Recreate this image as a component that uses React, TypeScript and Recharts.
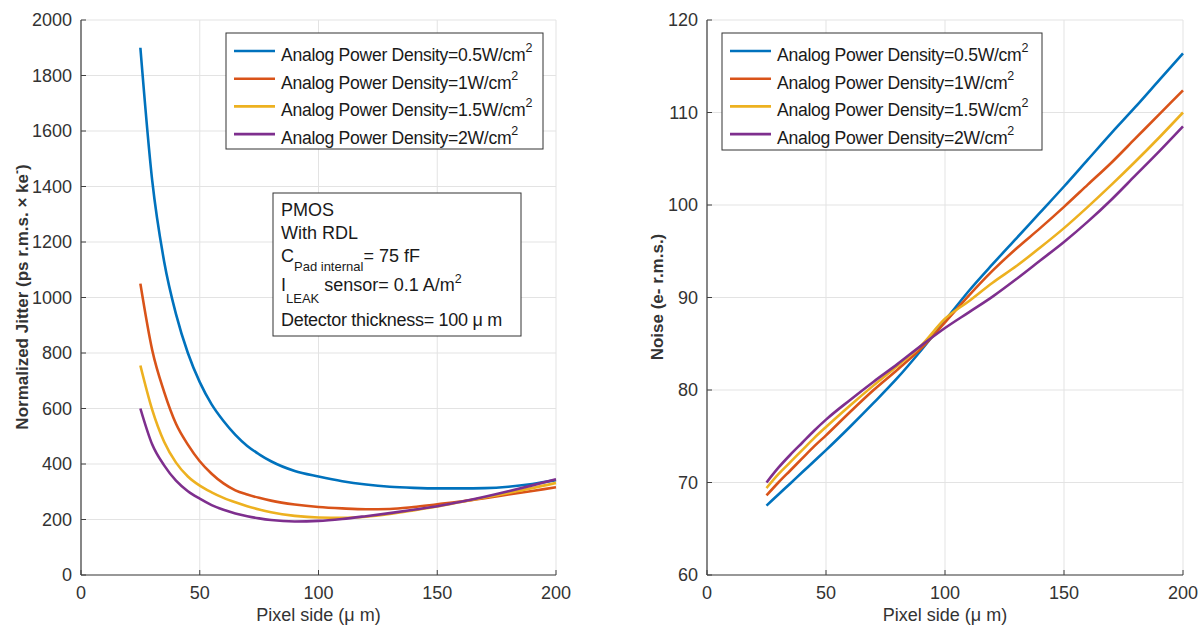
import React from 'react';
import { LineChart, Line, XAxis, YAxis, CartesianGrid } from 'recharts';

// ---- Data ----
const PIXEL_J = [25, 30, 35, 40, 45, 50, 55, 60, 65, 70, 75, 80, 90, 100, 110, 120, 130, 140, 150, 160, 170, 180, 190, 200];
const JIT_05 = [1900, 1420, 1130, 940, 800, 695, 615, 555, 505, 465, 435, 410, 375, 355, 338, 326, 318, 314, 312, 312, 313, 318, 328, 342];
const JIT_1 = [1050, 810, 660, 545, 470, 410, 365, 330, 305, 290, 278, 268, 254, 245, 240, 237, 238, 245, 255, 265, 277, 290, 303, 316];
const JIT_15 = [755, 595, 480, 405, 355, 322, 298, 278, 262, 248, 236, 226, 213, 207, 206, 210, 220, 233, 247, 263, 279, 296, 313, 332];
const JIT_2 = [600, 470, 395, 340, 302, 275, 252, 235, 222, 212, 204, 198, 193, 195, 202, 212, 223, 235, 248, 264, 282, 302, 323, 345];

const PIXEL_N = [25, 30, 35, 40, 45, 50, 60, 70, 80, 90, 100, 110, 120, 130, 140, 150, 160, 170, 180, 190, 200];
const NOISE_05 = [67.5, 68.7, 69.9, 71.1, 72.3, 73.5, 76.0, 78.6, 81.3, 84.3, 87.5, 90.7, 93.6, 96.4, 99.2, 102.0, 104.9, 107.8, 110.6, 113.5, 116.4];
const NOISE_1 = [68.6, 70.0, 71.3, 72.6, 73.9, 75.1, 77.6, 80.0, 82.2, 84.5, 87.3, 90.2, 92.9, 95.3, 97.5, 99.8, 102.2, 104.6, 107.2, 109.8, 112.4];
const NOISE_15 = [69.4, 70.9, 72.2, 73.5, 74.8, 76.0, 78.3, 80.5, 82.6, 84.8, 87.7, 89.6, 91.6, 93.4, 95.4, 97.5, 99.8, 102.2, 104.7, 107.3, 110.0];
const NOISE_2 = [70.0, 71.6, 73.0, 74.3, 75.6, 76.8, 78.9, 80.9, 82.8, 84.8, 86.7, 88.4, 90.1, 92.0, 94.0, 96.0, 98.2, 100.6, 103.2, 105.8, 108.5];

const SERIES_LABELS = ['0.5W/cm', '1W/cm', '1.5W/cm', '2W/cm'];
const SERIES_KEYS = ['p05', 'p1', 'p15', 'p2'];
const COLORS = ['#0072BD', '#D95319', '#EDB120', '#7E2F8E'];

const X_TICKS = [0, 50, 100, 150, 200];
const JIT_TICKS = [0, 200, 400, 600, 800, 1000, 1200, 1400, 1600, 1800, 2000];
const NOISE_TICKS = [60, 70, 80, 90, 100, 110, 120];

const jitterRows = PIXEL_J.map((x, i) => ({ x, p05: JIT_05[i], p1: JIT_1[i], p15: JIT_15[i], p2: JIT_2[i] }));
const noiseRows = PIXEL_N.map((x, i) => ({ x, p05: NOISE_05[i], p1: NOISE_1[i], p15: NOISE_15[i], p2: NOISE_2[i] }));

// ---- Styles ----
const FONT = '"Liberation Sans", Arial, sans-serif';
const AXIS = '#404040';
const TXT = '#333333';
const GRID = '#e3e3e3';
const TICK_LEN = 5;

const LeftTick = (props: any) => {
  const { x, y, payload } = props;
  const ax = x + 9;
  return (
    <g>
      <line x1={ax} x2={ax + TICK_LEN} y1={y} y2={y} stroke={AXIS} strokeWidth={1} />
      <text x={x} y={y + 6} textAnchor="end" fontSize={18} fill={TXT} fontFamily={FONT}>{payload.value}</text>
    </g>
  );
};
const BottomTick = (props: any) => {
  const { x, y, payload } = props;
  return (
    <g>
      <line x1={x} x2={x} y1={y} y2={y - TICK_LEN} stroke={AXIS} strokeWidth={1} />
      <text x={x} y={y + 24} textAnchor="middle" fontSize={18} fill={TXT} fontFamily={FONT}>{payload.value}</text>
    </g>
  );
};
const TopTick = (props: any) => {
  const { x, y } = props;
  return <line x1={x} x2={x} y1={y} y2={y + TICK_LEN} stroke={AXIS} strokeWidth={1} />;
};
const RightTick = (props: any) => {
  const { x, y } = props;
  return <line x1={x} x2={x - TICK_LEN} y1={y} y2={y} stroke={AXIS} strokeWidth={1} />;
};

function Panel({ rows, domain, ticks, marginLeft, marginRight, width }: any) {
  return (
    <LineChart
      width={width}
      height={628}
      data={rows}
      margin={{ top: 20, right: marginRight, bottom: 0, left: marginLeft }}
    >
      <CartesianGrid stroke={GRID} strokeWidth={1} />
      <XAxis
        dataKey="x"
        type="number"
        domain={[0, 200]}
        ticks={X_TICKS}
        interval={0}
        height={53}
        tickSize={0}
        tickMargin={0}
        tickLine={false}
        tick={<BottomTick />}
        axisLine={{ stroke: AXIS, strokeWidth: 1.2 }}
      />
      <XAxis
        xAxisId="top"
        orientation="top"
        dataKey="x"
        type="number"
        domain={[0, 200]}
        ticks={X_TICKS}
        interval={0}
        height={0}
        tickSize={0}
        tickMargin={0}
        tickLine={false}
        tick={<TopTick />}
        axisLine={{ stroke: AXIS, strokeWidth: 1 }}
      />
      <YAxis
        type="number"
        domain={domain}
        ticks={ticks}
        interval={0}
        width={60}
        tickSize={0}
        tickMargin={9}
        tickLine={false}
        tick={<LeftTick />}
        axisLine={{ stroke: AXIS, strokeWidth: 1.2 }}
      />
      <YAxis
        yAxisId="right"
        orientation="right"
        type="number"
        domain={domain}
        ticks={ticks}
        interval={0}
        width={0}
        tickSize={0}
        tickMargin={0}
        tickLine={false}
        tick={<RightTick />}
        axisLine={{ stroke: AXIS, strokeWidth: 1 }}
      />
      {SERIES_KEYS.map((k, i) => (
        <Line
          key={k}
          dataKey={k}
          type="monotone"
          stroke={COLORS[i]}
          strokeWidth={2.6}
          dot={false}
          activeDot={false}
          isAnimationActive={false}
        />
      ))}
    </LineChart>
  );
}

function LegendBox({ x, y, w, h }: any) {
  return (
    <g>
      <rect x={x} y={y} width={w} height={h} fill="#ffffff" stroke="#333" strokeWidth={1} />
      {SERIES_LABELS.map((lab, i) => {
        const ly = y + 18 + i * 27.7;
        return (
          <g key={lab}>
            <line x1={x + 8} x2={x + 49} y1={ly} y2={ly} stroke={COLORS[i]} strokeWidth={2.6} />
            <text x={x + 55} y={ly + 10} fontSize={17.6} letterSpacing={-0.3} fill="#1a1a1a" fontFamily={FONT}>
              {'Analog Power Density=' + lab}
              <tspan dy={-9} fontSize={12.5}>2</tspan>
            </text>
          </g>
        );
      })}
    </g>
  );
}

export default function App() {
  return (
    <div style={{ position: 'absolute', left: 0, top: 0, width: 1198, height: 628, background: '#fff' }}>
      <div style={{ position: 'absolute', left: 0, top: 0 }}>
        <Panel rows={jitterRows} domain={[0, 2000]} ticks={JIT_TICKS} marginLeft={21} marginRight={44} width={600} />
      </div>
      <div style={{ position: 'absolute', left: 600, top: 0 }}>
        <Panel rows={noiseRows} domain={[60, 120]} ticks={NOISE_TICKS} marginLeft={47} marginRight={15} width={598} />
      </div>
      <svg width={1198} height={628} style={{ position: 'absolute', left: 0, top: 0, pointerEvents: 'none' }}>
        {/* axis titles */}
        <text x={318.5} y={621} textAnchor="middle" fontSize={18} fill={TXT} fontFamily={FONT}>Pixel side (μ m)</text>
        <text x={945} y={621} textAnchor="middle" fontSize={18} fill={TXT} fontFamily={FONT}>Pixel side (μ m)</text>
        <text x={28} y={297} transform="rotate(-90 28 297)" textAnchor="middle" fontSize={17} fontWeight="bold" fill={TXT} fontFamily={FONT}>
          Normalized Jitter (ps r.m.s. × ke<tspan dy={-7} fontSize={12}>-</tspan><tspan dy={7}>)</tspan>
        </text>
        <text x={663} y={297} transform="rotate(-90 663 297)" textAnchor="middle" fontSize={17} fontWeight="bold" fill={TXT} fontFamily={FONT}>
          Noise (e- r.m.s.)
        </text>
        {/* legends */}
        <LegendBox x={226} y={33} w={317} h={116} />
        <LegendBox x={722} y={33} w={320} h={117} />
        {/* annotation */}
        <g fontFamily={FONT} fill="#1a1a1a">
          <rect x={273} y={193} width={248} height={143} fill="#ffffff" stroke="#333" strokeWidth={1} />
          <text x={281} y={216} fontSize={18}>PMOS</text>
          <text x={281} y={239} fontSize={18}>With RDL</text>
          <text x={281} y={262} fontSize={18}>
            C<tspan dy={9} fontSize={13}>Pad internal</tspan><tspan dy={-9}>= 75 fF</tspan>
          </text>
          <text x={281} y={291} fontSize={18}>
            I<tspan dy={12} fontSize={13}>LEAK</tspan><tspan dy={-12}> sensor= 0.1 A/m</tspan><tspan dy={-8} fontSize={12.5}>2</tspan>
          </text>
          <text x={281} y={326} fontSize={18} letterSpacing={-0.3}>Detector thickness= 100 μ m</text>
        </g>
      </svg>
    </div>
  );
}
